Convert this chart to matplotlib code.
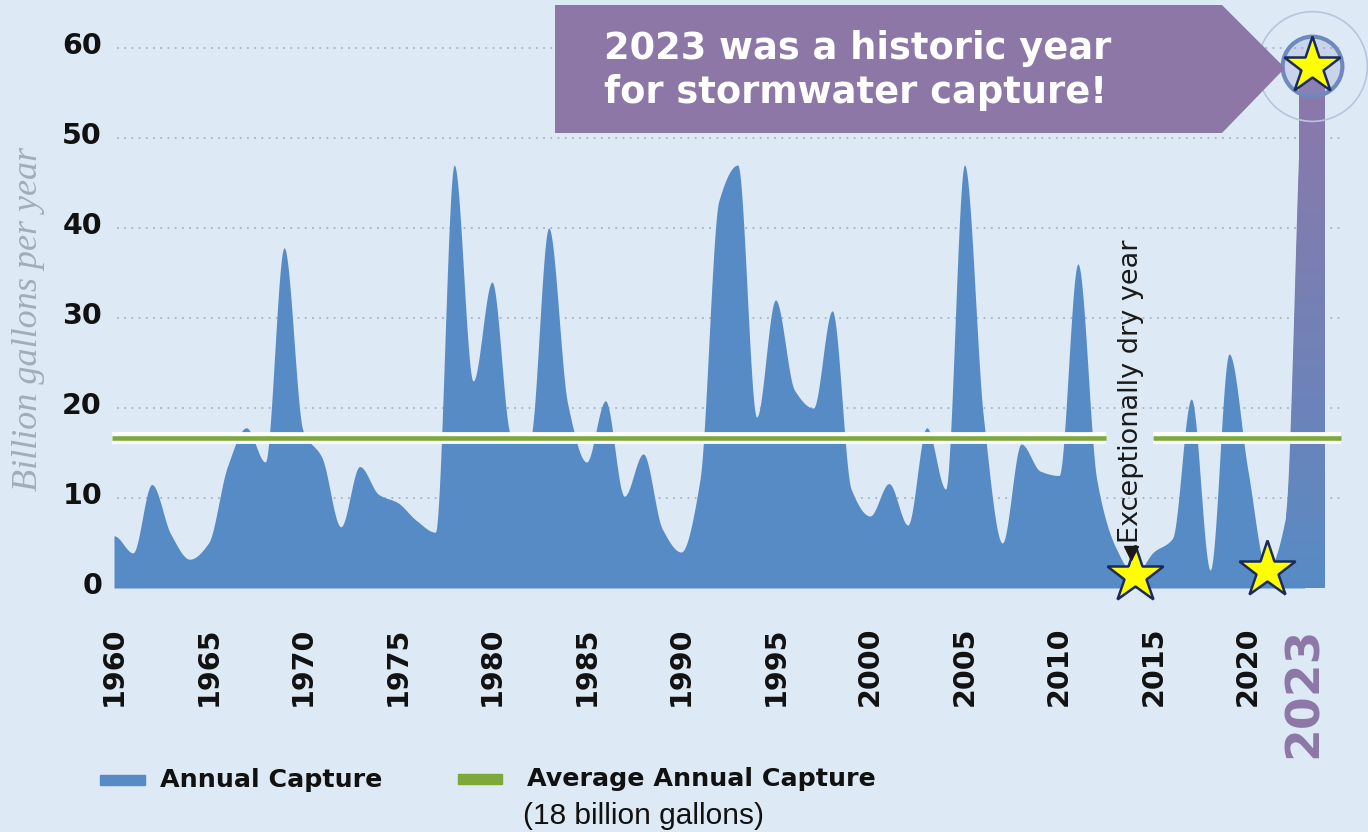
import numpy as np
import matplotlib
matplotlib.use("Agg")
import matplotlib.pyplot as plt
from matplotlib.patches import Polygon, Rectangle
import matplotlib.transforms as mtransforms

# ---------------- data ----------------
years = list(range(1960, 2024))
capture = [5.8, 3.9, 11.5, 6.0, 3.2, 5.0, 13.5, 17.8, 14.0, 37.8,
           17.5, 14.5, 6.8, 13.5, 10.4, 9.5, 7.5, 6.2, 47.0, 23.0,
           34.0, 17.0, 16.5, 40.0, 20.5, 14.0, 20.8, 10.2, 14.9, 6.6,
           4.0, 12.0, 43.0, 47.0, 19.0, 32.0, 22.0, 20.0, 30.8, 11.0,
           8.0, 11.6, 7.0, 17.8, 11.0, 47.0, 19.0, 5.0, 16.0, 13.0,
           12.5, 36.0, 12.0, 4.5, 1.5, 4.0, 5.5, 21.0, 2.0, 26.0,
           13.0, 2.0, 8.0, 58.0]
average_drawn = 16.7
y_ticks = [0, 10, 20, 30, 40, 50, 60]
x_ticks = [1960, 1965, 1970, 1975, 1980, 1985, 1990, 1995, 2000, 2005,
           2010, 2015, 2020, 2023]
x_tick_labels = [str(v) for v in x_ticks]
star_years = [2014, 2021]
dry_year = 2014
highlight_year = 2023
legend_labels = ["Annual Capture", "Average Annual Capture"]
legend_note = "(18 billion gallons)"
callout_lines = ["2023 was a historic year", "for stormwater capture!"]

# ---------------- style ----------------
BG = "#dde9f5"
FILL = "#578bc5"
PURPLE = "#8d77a7"
GREEN = "#7da83a"
GRID = "#a9b3bf"
W, H = 1368, 832


def fx(px):
    return px / W


def fy(py):
    return 1 - py / H


def pchip(x, y, xs):
    x = np.asarray(x, float)
    y = np.asarray(y, float)
    h = np.diff(x)
    delta = np.diff(y) / h
    n = len(x)
    d = np.zeros(n)
    for k in range(1, n - 1):
        if delta[k - 1] * delta[k] > 0:
            w1 = 2 * h[k] + h[k - 1]
            w2 = h[k] + 2 * h[k - 1]
            d[k] = (w1 + w2) / (w1 / delta[k - 1] + w2 / delta[k])
    idx = np.clip(np.searchsorted(x, xs) - 1, 0, n - 2)
    t = (xs - x[idx]) / h[idx]
    h00 = 2 * t**3 - 3 * t**2 + 1
    h10 = t**3 - 2 * t**2 + t
    h01 = -2 * t**3 + 3 * t**2
    h11 = t**3 - t**2
    return (h00 * y[idx] + h10 * h[idx] * d[idx] + h01 * y[idx + 1]
            + h11 * h[idx] * d[idx + 1])


fig = plt.figure(figsize=(13.68, 8.32), dpi=100)
fig.patch.set_facecolor(BG)

ax_left, ax_right, ax_bottom_px = 112, 1342, 592
ax = fig.add_axes([fx(ax_left), fy(ax_bottom_px), (ax_right - ax_left) / W,
                   ax_bottom_px / H])
ax.set_facecolor(BG)
ppy = 18.9          # pixels per year
x0px = 114          # pixel of 1960
ppu = 9.0           # pixels per unit
zero_px = 588
XLIM = (1960 - (x0px - ax_left) / ppy, 1960 + (ax_right - x0px) / ppy)
YLIM = (-(ax_bottom_px - zero_px) / ppu, zero_px / ppu)
for s in ax.spines.values():
    s.set_visible(False)

# grid (dotted)
ax.hlines(y_ticks[1:], 1960 + 3 / ppy, XLIM[1], colors=GRID,
          linestyles=(0, (1, 3)), lw=1.3, zorder=1)

# area
xs = np.linspace(years[0], years[-1], 3000)
ys = np.clip(pchip(years, capture, xs), 0, None)
area = ax.fill_between(xs, 0, ys, color=FILL, lw=0, zorder=2)

# highlighted 2023 column
ih = years.index(highlight_year)
bar_w = 1.35
bars = ax.bar([highlight_year - 0.3], [capture[ih]], width=bar_w,
              align="edge", color=FILL, lw=0, zorder=2)
col_center = highlight_year - 0.3 + bar_w / 2

# purple gradient on the 2023 column
vals = np.linspace(0, 60, 256)
frac = np.clip(vals / 58.0, 0, 1) ** 0.9
c_bot = np.array([87, 139, 197]) / 255
c_top = np.array([141, 120, 168]) / 255
rgba = np.zeros((256, 1, 4))
rgba[:, 0, :3] = (c_bot[None, :] * (1 - frac[:, None])
                  + c_top[None, :] * frac[:, None])
rgba[:, 0, 3] = 1.0
clip_paths = [area.get_paths()[0], bars.patches[0].get_path()]
clip_trans = [ax.transData, bars.patches[0].get_transform()]
for pth, tr in zip(clip_paths, clip_trans):
    im = ax.imshow(rgba, origin="lower", extent=[2022.0, 2025.0, 0, 60],
                   aspect="auto", zorder=3, interpolation="bilinear")
    im.set_clip_path(pth, transform=tr)
ax.set_xlim(*XLIM)
ax.set_ylim(*YLIM)

# average line (white casing + green), with a gap at the dry-year note
seg1 = (XLIM[0], 1960 + (1106 - x0px) / ppy)
seg2 = (1960 + (1153 - x0px) / ppy, 1960 + (1341 - x0px) / ppy)
for a, b in (seg1, seg2):
    ax.plot([a, b], [average_drawn, average_drawn], color="white", lw=8.5,
            solid_capstyle="butt", zorder=4)
    ax.plot([a, b], [average_drawn, average_drawn], color=GREEN, lw=3.3,
            solid_capstyle="butt", zorder=5)

# y tick labels
ylab_tr = mtransforms.offset_copy(ax.get_yaxis_transform(), fig=fig, x=0,
                                  y=2, units="dots")
for v in y_ticks:
    ax.text((102 - ax_left) / (ax_right - ax_left), v, str(v), transform=ylab_tr,
            ha="right", va="center", fontsize=20.5, fontweight="bold",
            color="#111111", family="DejaVu Sans")
ax.set_yticks([])

# x tick labels
ax.set_xticks(x_ticks)
ax.set_xticklabels(x_tick_labels, rotation=90, fontsize=20.5,
                   fontweight="bold", family="DejaVu Sans", color="#111111")
ax.tick_params(axis="x", length=0, pad=25)
last = ax.get_xticklabels()[-1]
last.set_color(PURPLE)
last.set_fontsize(34)

# y axis title
fig.text(fx(29), fy(319), "Billion gallons per year", rotation=90,
         ha="center", va="center", fontsize=26, style="italic",
         family="Liberation Serif", color="#a3adb8")

# callout
callout = Polygon([(fx(555), fy(5)), (fx(1222), fy(5)), (fx(1285), fy(68)),
                   (fx(1222), fy(133)), (fx(555), fy(133))], closed=True,
                  transform=fig.transFigure, facecolor=PURPLE,
                  edgecolor="none", zorder=10)
fig.add_artist(callout)
for line, base in zip(callout_lines, (59, 103)):
    fig.text(fx(604), fy(base), line, ha="left", va="baseline",
             fontsize=26.5, fontweight="bold", family="DejaVu Sans",
             color="white", zorder=11)

# circles + star on the 2023 column
ax.plot(col_center, capture[ih], marker="o", ms=79, mfc="none",
        mec="#b7c5dc", mew=1.2, zorder=6, clip_on=False)
ax.plot(col_center, capture[ih], marker="o", ms=43,
        mfc=(0.55, 0.6, 0.8, 0.25), mec="#7089bd", mew=3, zorder=6,
        clip_on=False)
ax.plot(col_center, capture[ih], marker="*", ms=43, mfc="#ffff00",
        mec="#1b2a5c", mew=1.8, zorder=7, clip_on=False)
for yr in star_years:
    i = years.index(yr)
    ax.plot(yr, capture[i], marker="*", ms=43, mfc="#ffff00", mec="#1b2a5c",
            mew=1.8, zorder=7, clip_on=False)

# dry-year annotation
idry = years.index(dry_year)
ax.plot(dry_year - 0.2, capture[idry] + 2.4, marker="v", ms=10,
        color="#1a1a1a", zorder=8, clip_on=False)
ax.text(dry_year - 0.2, capture[idry] + 3.5, "Exceptionally dry year",
        rotation=90, ha="center", va="bottom", fontsize=19.5,
        family="DejaVu Sans", color="#1a1a1a", zorder=7)

# legend
fig.add_artist(Rectangle((fx(100), fy(785)), 45 / W, 10 / H, color=FILL,
                         transform=fig.transFigure))
fig.text(fx(160), fy(780), legend_labels[0], ha="left", va="center",
         fontsize=18.3, fontweight="bold", family="DejaVu Sans",
         color="#111111")
fig.add_artist(Rectangle((fx(458), fy(784)), 44 / W, 10 / H, color=GREEN,
                         transform=fig.transFigure))
fig.text(fx(527), fy(779), legend_labels[1], ha="left", va="center",
         fontsize=18.3, fontweight="bold", family="DejaVu Sans",
         color="#111111")
fig.text(fx(523), fy(816), legend_note, ha="left", va="center",
         fontsize=21.5, family="Liberation Sans", color="#111111")

fig.savefig("out.png", dpi=100, facecolor=BG)
